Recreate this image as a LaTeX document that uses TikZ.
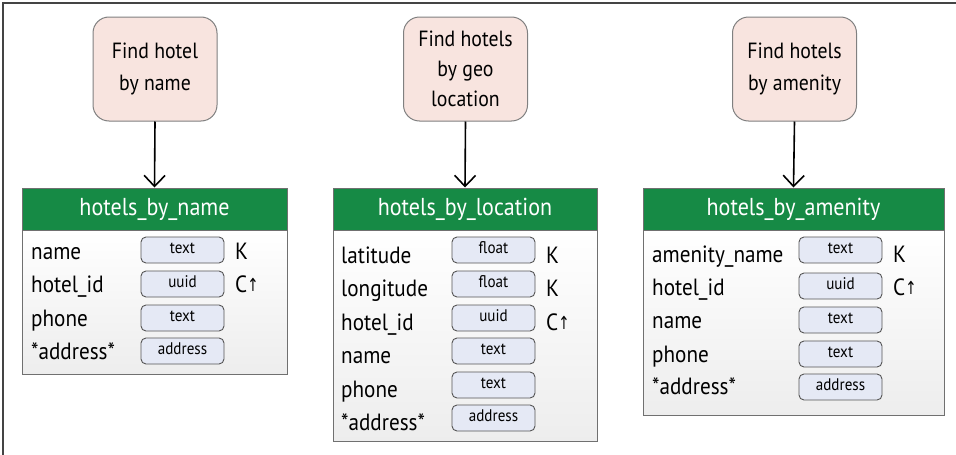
\documentclass[tikz,border=0pt]{standalone}
\usepackage{fontspec}
\setmainfont{PT Sans}[FakeStretch=0.9]
\newfontfamily\arrowfont{DejaVu Sans}[FakeStretch=0.75]
\usetikzlibrary{arrows.meta}
\definecolor{qfill}{HTML}{F8E4DF}
\definecolor{qdraw}{HTML}{808080}
\definecolor{hgreen}{HTML}{168A45}
\definecolor{tfill}{HTML}{E5E9F5}
\definecolor{tdraw}{HTML}{555555}
\definecolor{bdraw}{HTML}{707070}
\definecolor{framec}{HTML}{444444}
\tikzset{
  query/.style={draw=qdraw, line width=1pt, fill=qfill, rounded corners=16pt,
    minimum width=124pt, minimum height=104pt, inner sep=0pt, align=center,
    font=\fontsize{22}{32}\selectfont},
  header/.style={draw=bdraw, line width=1pt, fill=hgreen, text=white, inner sep=0pt,
    minimum height=42pt, font=\fontsize{24.5}{26}\selectfont},
  tbody/.style={draw=bdraw, line width=1pt, top color=white, bottom color=black!7, inner sep=0pt},
  field/.style={anchor=base west, inner sep=0pt, font=\fontsize{23.5}{26}\selectfont},
  keyc/.style={anchor=base west, inner sep=0pt, font=\fontsize{23.5}{26}\selectfont},
  typebox/.style={draw=tdraw, line width=0.9pt, fill=tfill, rounded corners=5pt,
    minimum width=83pt, inner xsep=0pt, inner ysep=0pt, text height=16pt, text depth=10pt,
    font=\fontsize{16.8}{18}\selectfont},
  qarrow/.style={line width=1.6pt, -{Straight Barb[length=11pt,width=21pt,line width=1.6pt]}},
}
\newcommand{\upar}{{\arrowfont\fontsize{18}{20}\selectfont\raisebox{1pt}{↑}}}
\begin{document}
\begin{tikzpicture}[x=1pt,y=-1pt]
\useasboundingbox (0,0) rectangle (956,455);
\fill[white] (0,0) rectangle (956,455);
\draw[framec, line width=1.3pt] (3,455) -- (3,3) -- (956,3);

% queries
\node[query] (q1) at (155,69) {Find hotel\\by name};
\node[query, font=\fontsize{22}{30}\selectfont] (q2) at (465.5,69) {Find hotels\\by geo\\location};
\node[query] (q3) at (794.5,69) {Find hotels\\by amenity};

% table 1
\node[tbody, minimum width=265pt, minimum height=144pt] (b1) at (154.5,302) {};
\node[header, minimum width=265pt] (h1) at (154.5,209) {hotels\_by\_name};
\node[field] (f11) at (31,259) {name};
\node[field] (f12) at (31,292) {hotel\_id};
\node[field] (f13) at (31,326) {phone};
\node[field] (f14) at (31,359) {*address*};
\node[typebox] (t11) at (182.5,250) {text};
\node[typebox] (t12) at (182.5,284) {uuid};
\node[typebox] (t13) at (182.5,318) {text};
\node[typebox] (t14) at (182.5,351) {address};
\node[keyc] (k11) at (235,259) {K};
\node[keyc] (k12) at (235,292) {C\upar};

% table 2
\node[tbody, minimum width=264pt, minimum height=211pt] (b2) at (465,335.5) {};
\node[header, minimum width=264pt] (h2) at (465,209) {hotels\_by\_location};
\node[field] (f21) at (341,263) {latitude};
\node[field] (f22) at (341,296) {longitude};
\node[field] (f23) at (341,330) {hotel\_id};
\node[field] (f24) at (341,363) {name};
\node[field] (f25) at (341,397) {phone};
\node[field] (f26) at (341,430) {*address*};
\node[typebox] (t21) at (493.5,250) {float};
\node[typebox] (t22) at (493.5,284) {float};
\node[typebox] (t23) at (493.5,318) {uuid};
\node[typebox] (t24) at (493.5,351) {text};
\node[typebox] (t25) at (493.5,385) {text};
\node[typebox] (t26) at (493.5,418) {address};
\node[keyc] (k21) at (546,263) {K};
\node[keyc] (k22) at (546,296) {K};
\node[keyc] (k23) at (546,330) {C\upar};

% table 3
\node[tbody, minimum width=301pt, minimum height=185pt] (b3) at (793.5,322.5) {};
\node[header, minimum width=301pt] (h3) at (793.5,209) {hotels\_by\_amenity};
\node[field] (f31) at (652,262) {amenity\_name};
\node[field] (f32) at (652,295) {hotel\_id};
\node[field] (f33) at (652,328) {name};
\node[field] (f34) at (652,362) {phone};
\node[field] (f35) at (652,394) {*address*};
\node[typebox] (t31) at (840.5,250) {text};
\node[typebox] (t32) at (840.5,286) {uuid};
\node[typebox] (t33) at (840.5,320) {text};
\node[typebox] (t34) at (840.5,354) {text};
\node[typebox] (t35) at (840.5,387) {address};
\node[keyc] (k31) at (893,262) {K};
\node[keyc] (k32) at (893,295) {C\upar};

% arrows
\draw[qarrow] (q1.south) -- (h1.north);
\draw[qarrow] (q2.south) -- (h2.north);
\draw[qarrow] (q3.south) -- (h3.north);
\end{tikzpicture}
\end{document}
